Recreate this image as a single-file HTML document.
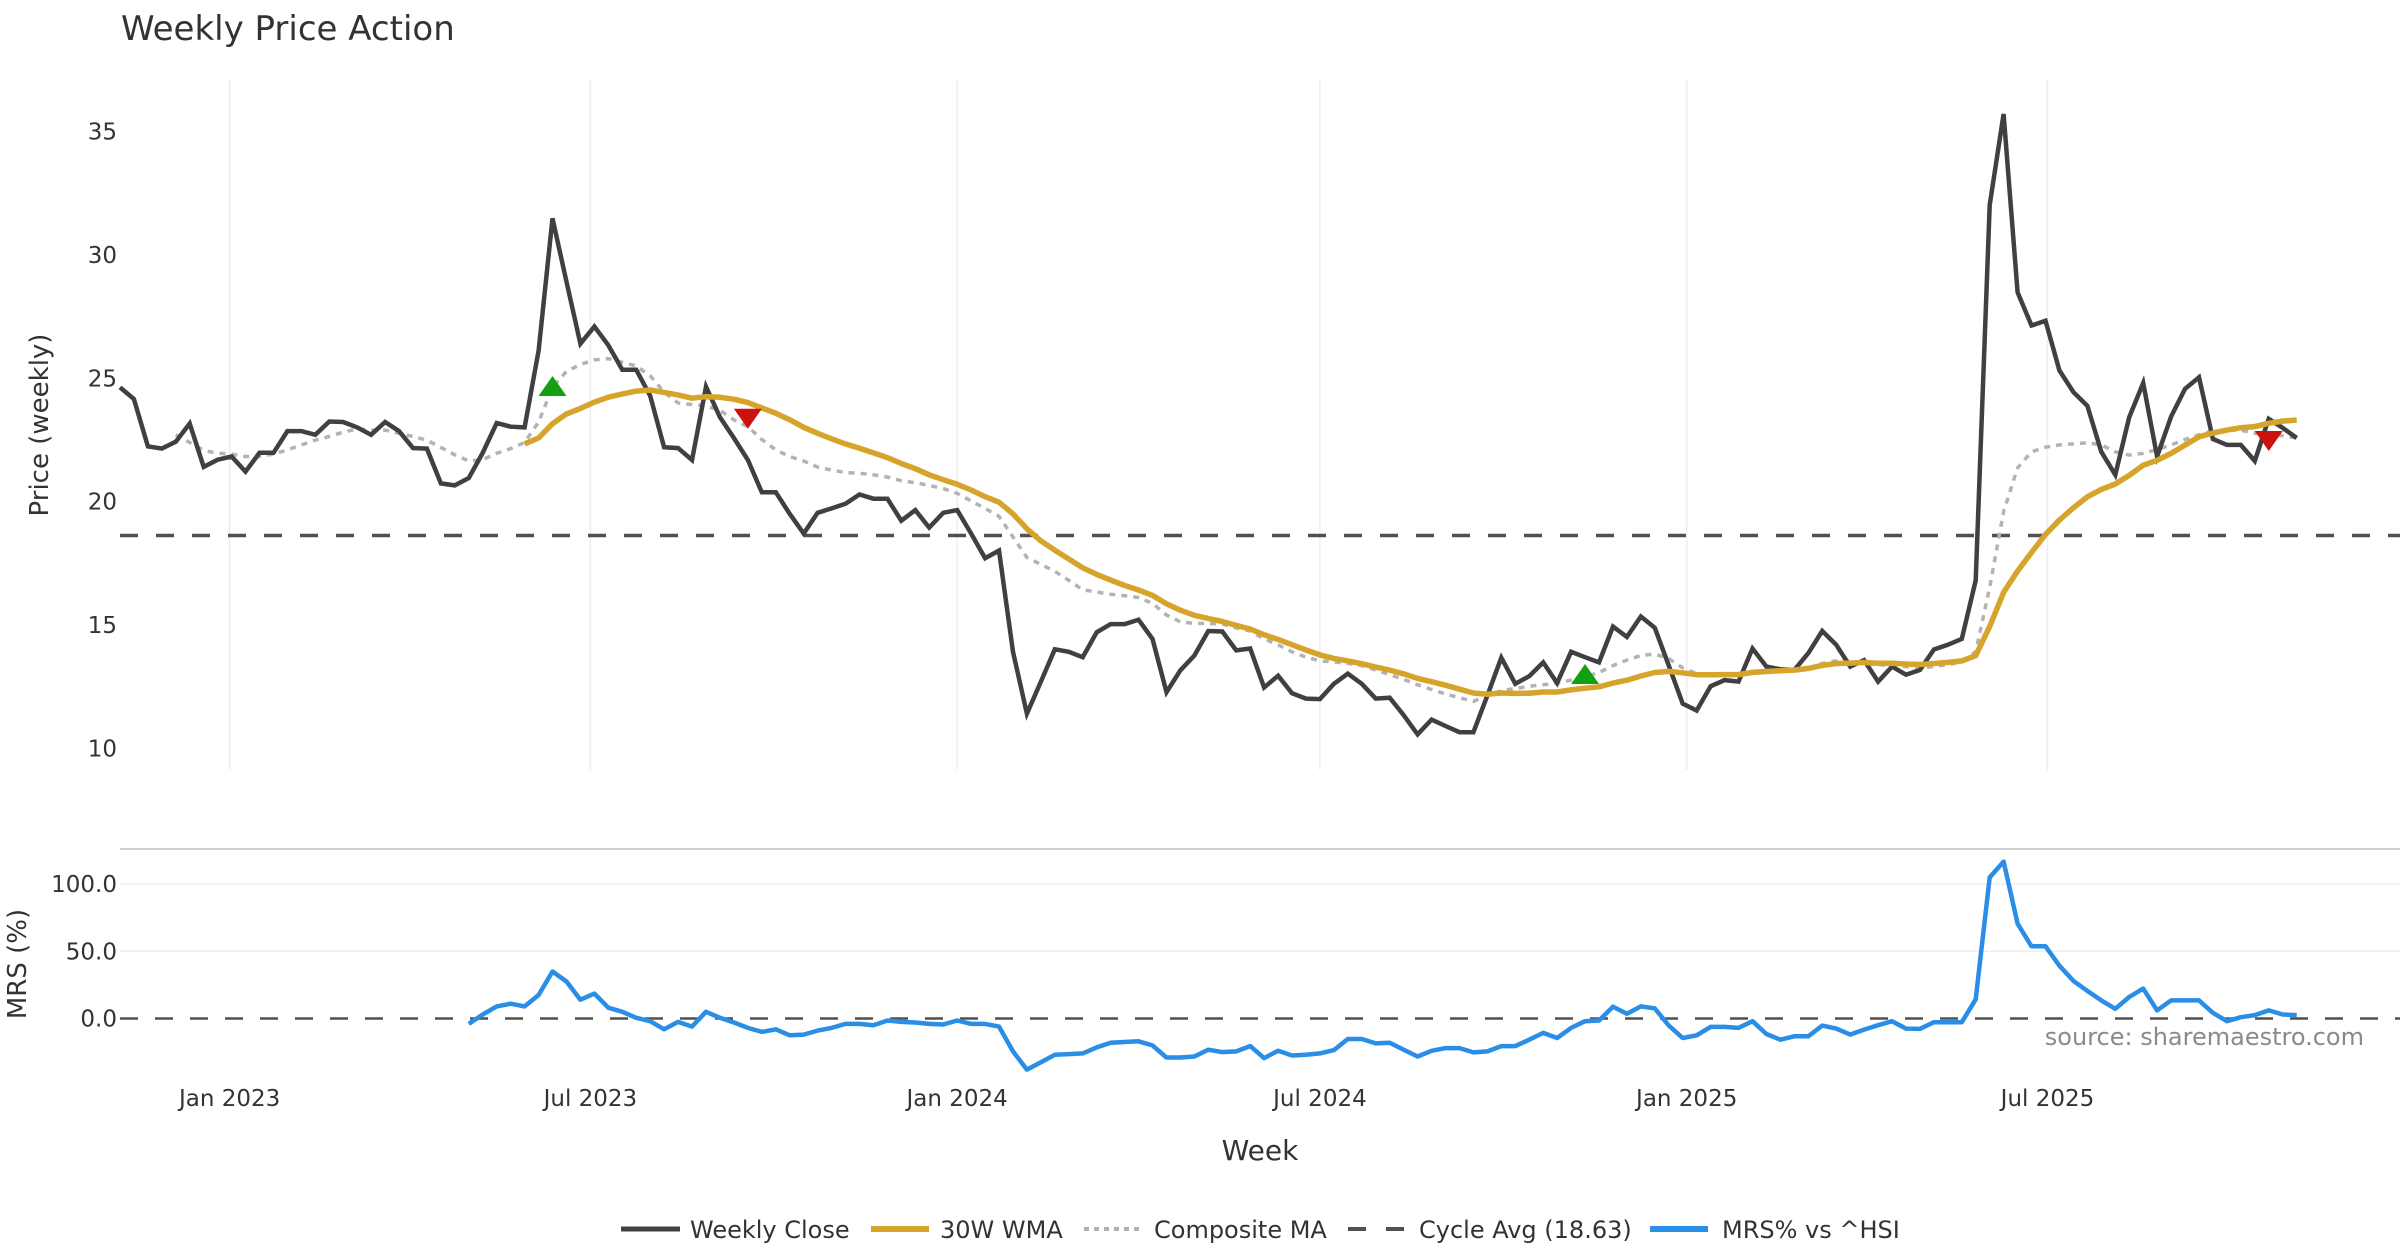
<!DOCTYPE html>
<html><head><meta charset="utf-8">
<style>
html,body{margin:0;padding:0;background:#fff;}
svg{display:block;font-family:"DejaVu Sans","Liberation Sans",sans-serif;}
</style></head>
<body>
<svg id="chart" width="2400" height="1260" viewBox="0 0 2400 1260" xmlns="http://www.w3.org/2000/svg">
<rect width="2400" height="1260" fill="#fff"/>
<text x="121" y="40" font-size="34" fill="#333">Weekly Price Action</text>
<g id="grid"></g>
<g id="main"></g>
<g id="mrs"></g>
<text transform="translate(48,425) rotate(-90)" text-anchor="middle" font-size="26" fill="#333">Price (weekly)</text>
<text transform="translate(26,964) rotate(-90)" text-anchor="middle" font-size="26" fill="#333">MRS (%)</text>
<text x="1260" y="1160" text-anchor="middle" font-size="28" fill="#333">Week</text>
<text x="2364" y="1045" text-anchor="end" font-size="24" fill="#8a8a8a">source: sharemaestro.com</text>
<g id="legend">
<line x1="621" y1="1229" x2="680" y2="1229" stroke="#404040" stroke-width="5"/>
<text x="690" y="1238" font-size="24" fill="#333">Weekly Close</text>
<line x1="871" y1="1229" x2="929" y2="1229" stroke="#d6a42a" stroke-width="6"/>
<text x="940" y="1238" font-size="24" fill="#333">30W WMA</text>
<line x1="1084" y1="1229" x2="1140" y2="1229" stroke="#b0b0b0" stroke-width="4" stroke-dasharray="5,5"/>
<text x="1154" y="1238" font-size="24" fill="#333">Composite MA</text>
<line x1="1348" y1="1229" x2="1405" y2="1229" stroke="#505050" stroke-width="4" stroke-dasharray="18,20"/>
<text x="1419" y="1238" font-size="24" fill="#333">Cycle Avg (18.63)</text>
<line x1="1650" y1="1229" x2="1708" y2="1229" stroke="#2a8de6" stroke-width="6"/>
<text x="1722" y="1238" font-size="24" fill="#333">MRS% vs ^HSI</text>
</g>
</svg>
<script>
const closeValues = [24.63,24.16,22.24,22.15,22.43,23.17,21.41,21.70,21.83,21.22,21.98,21.98,22.86,22.86,22.71,23.25,23.23,23.01,22.71,23.23,22.86,22.17,22.15,20.74,20.66,20.96,21.98,23.19,23.04,23.01,26.12,31.48,28.91,26.40,27.10,26.34,25.35,25.35,24.29,22.21,22.17,21.69,24.66,23.42,22.58,21.69,20.38,20.38,19.51,18.71,19.55,19.73,19.92,20.29,20.12,20.12,19.23,19.66,18.95,19.55,19.66,18.71,17.71,18.02,13.92,11.41,12.71,14.02,13.92,13.70,14.71,15.04,15.04,15.22,14.44,12.28,13.17,13.77,14.76,14.74,13.98,14.05,12.47,12.95,12.24,12.02,12.00,12.62,13.03,12.62,12.02,12.06,11.35,10.57,11.17,10.91,10.66,10.66,12.15,13.68,12.62,12.93,13.49,12.65,13.92,13.70,13.49,14.94,14.52,15.35,14.89,13.36,11.82,11.54,12.52,12.77,12.71,14.05,13.32,13.21,13.18,13.86,14.76,14.20,13.32,13.58,12.71,13.32,12.99,13.18,14.01,14.20,14.44,16.81,32.02,35.71,28.48,27.14,27.33,25.32,24.44,23.88,22.02,21.09,23.42,24.81,21.83,23.45,24.57,25.04,22.54,22.30,22.30,21.65,23.36,22.99,22.58];
const compositeStart = 4;
const compositeValues = [22.71,22.4,22.08,21.96,21.93,21.83,21.83,21.93,22.1,22.3,22.49,22.64,22.82,22.95,22.9,22.9,22.77,22.64,22.49,22.2,21.9,21.65,21.7,21.96,22.15,22.4,23.23,24.63,25.28,25.56,25.75,25.8,25.65,25.5,25.1,24.44,24.0,23.94,23.88,23.7,23.32,23.04,22.52,22.1,21.83,21.65,21.4,21.28,21.18,21.15,21.09,21.0,20.85,20.77,20.66,20.53,20.34,20.03,19.73,19.41,18.57,17.74,17.46,17.18,16.81,16.43,16.34,16.25,16.19,16.12,15.88,15.41,15.13,15.07,15.07,15.04,14.89,14.76,14.44,14.2,13.92,13.7,13.55,13.51,13.45,13.36,13.18,12.99,12.8,12.58,12.39,12.21,12.06,11.91,12.15,12.34,12.43,12.52,12.58,12.65,12.77,12.9,13.08,13.36,13.58,13.77,13.83,13.64,13.27,13.03,12.99,12.99,12.99,13.08,13.18,13.21,13.21,13.27,13.45,13.55,13.55,13.45,13.4,13.36,13.32,13.27,13.32,13.4,13.51,13.92,16.53,19.6,21.37,22.02,22.21,22.3,22.34,22.39,22.3,22.02,21.89,21.96,22.11,22.3,22.52,22.71,22.86,22.9,22.9,22.77,22.71,22.67,22.58];
const mrsStart = 25;
const mrsValues = [-4,3,9,11,9,17.5,35,27.5,14,18.5,8,5,0.5,-2,-8,-2.5,-6,5,0.5,-3,-7,-10,-8,-12.5,-12,-9,-7,-4,-4,-5,-1.5,-2.5,-3,-4,-4.5,-1.5,-4,-4,-6,-24.5,-38,-32.5,-27,-26.5,-26,-21.5,-18,-17.5,-17,-20,-29,-29,-28.25,-23.25,-25,-24.5,-20.5,-29.5,-24,-27.5,-27,-26,-23.5,-15.25,-15.25,-18.5,-18,-23.25,-28.25,-24,-22,-22,-25.25,-24.5,-20.5,-20.5,-15.75,-10.75,-14.5,-7,-2,-1.5,8.75,3.5,9,7.5,-5.25,-14.5,-12.5,-6.25,-6.25,-7,-2,-11.5,-15.75,-13.25,-13.25,-5.25,-7.5,-12,-8.25,-5,-2,-7.5,-7.75,-2.75,-2.75,-2.75,14.25,105,116.75,70.5,53.75,53.75,39.25,28,20.5,13.5,7.25,16,22.25,6,13.5,13.5,13.5,4.25,-2,1,2.5,6,3,2.5];
const cycleAvg = 18.63;
const wmaPeriod = 30;
const buyWeeks = [31,105];
const buyValues = [24.65,12.98];
const sellWeeks = [45,154];
const sellValues = [23.4,22.5];
const priceTicks = [10,15,20,25,30,35];
const mrsTicks = [0,50,100];
const mrsTickLabels = ["0.0","50.0","100.0"];
const dateTicks = ["2023-01-01","2023-07-01","2024-01-01","2024-07-01","2025-01-01","2025-07-01"];
const dateTickLabels = ["Jan 2023","Jul 2023","Jan 2024","Jul 2024","Jan 2025","Jul 2025"];
const firstWeek = "2022-11-07";

const NS="http://www.w3.org/2000/svg";
const DAY=86400000;
const ref=Date.UTC(2023,0,1);
function dayOf(s){const p=s.split("-");return (Date.UTC(+p[0],+p[1]-1,+p[2])-ref)/DAY;}
const startDay=dayOf(firstWeek);
function xDay(d){return 229.6+d*1.9933;}
function xWeek(i){return xDay(startDay+7*i);}
function yPrice(v){return 748.5-(v-10)*24.68;}
function yMrs(v){return 1018.5-v*1.344;}
function mk(tag,attrs,parent){const e=document.createElementNS(NS,tag);for(const k in attrs)e.setAttribute(k,attrs[k]);parent.appendChild(e);return e;}
const grid=document.getElementById('grid'),main=document.getElementById('main'),mrs=document.getElementById('mrs');

dateTicks.forEach((d,i)=>{
  const x=xDay(dayOf(d));
  const g=mk('line',{x1:x,y1:80,x2:x,y2:770,stroke:'#eceef2','stroke-width':1.5},grid);
  
  
  const t=mk('text',{x:x,y:1106,'text-anchor':'middle','font-size':23,fill:'#333'},grid);
  t.textContent=dateTickLabels[i];
  
  
});
priceTicks.forEach(v=>{
  const t=mk('text',{x:117,y:yPrice(v)+8,'text-anchor':'end','font-size':23,fill:'#333'},grid);
  t.textContent=v;
  
  
});
const sep=mk('line',{x1:120,y1:849,x2:2400,y2:849,stroke:'#cfcfcf','stroke-width':2},grid);


mrsTicks.forEach((v,i)=>{
  const y=yMrs(v);
  if(v!==0){const l=mk('line',{x1:120,y1:y,x2:2400,y2:y,stroke:'#eceef3','stroke-width':1.5},grid);
  
  }
  const t=mk('text',{x:117,y:y+8,'text-anchor':'end','font-size':23,fill:'#333'},grid);
  t.textContent=mrsTickLabels[i];
  
  
});

function pathFrom(vals,start,yf){return vals.map((v,i)=>(i?'L':'M')+xWeek(start+i).toFixed(1)+' '+yf(v).toFixed(1)).join(' ');}

const cy=yPrice(cycleAvg);
const cl=mk('line',{x1:120,y1:cy,x2:2400,y2:cy,stroke:'#505050','stroke-width':3.5,'stroke-dasharray':'18,18'},main);



const cp=mk('path',{d:pathFrom(compositeValues,compositeStart,yPrice),fill:'none',stroke:'#b3b3b3','stroke-width':3.5,'stroke-dasharray':'6,6'},main);



const cpth=mk('path',{d:pathFrom(closeValues,0,yPrice),fill:'none',stroke:'#404040','stroke-width':4.5,'stroke-linejoin':'miter'},main);



const wmaValues=[];
const wsum=wmaPeriod*(wmaPeriod+1)/2;
for(let i=wmaPeriod-1;i<closeValues.length;i++){let s=0;for(let j=0;j<wmaPeriod;j++)s+=closeValues[i-wmaPeriod+1+j]*(j+1);wmaValues.push(s/wsum);}
const wp=mk('path',{d:pathFrom(wmaValues,wmaPeriod-1,yPrice),fill:'none',stroke:'#d6a42a','stroke-width':5.5,'stroke-linejoin':'round'},main);



buyWeeks.forEach((w,i)=>{const x=xWeek(w),y=yPrice(buyValues[i]);
  const m=mk('path',{d:`M${x-14} ${y+9} L${x+14} ${y+9} L${x} ${y-11} Z`,fill:'#12a012'},main);
  
  });
sellWeeks.forEach((w,i)=>{const x=xWeek(w),y=yPrice(sellValues[i]);
  const m=mk('path',{d:`M${x-14} ${y-9} L${x+14} ${y-9} L${x} ${y+11} Z`,fill:'#cc1111'},main);
  
  });

const z=yMrs(0);
const zl=mk('line',{x1:120,y1:z,x2:2400,y2:z,stroke:'#505050','stroke-width':2.5,'stroke-dasharray':'18,17'},mrs);


const mp=mk('path',{d:pathFrom(mrsValues,mrsStart,yMrs),fill:'none',stroke:'#2a8de6','stroke-width':4.5,'stroke-linejoin':'round'},mrs);


</script>
</body></html>
